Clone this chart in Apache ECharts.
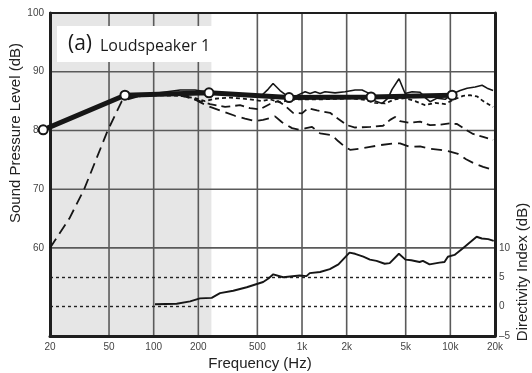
<!DOCTYPE html>
<html><head><meta charset="utf-8">
<script src="https://cdn.jsdelivr.net/npm/echarts@6/dist/echarts.min.js"></script>
<style>html,body{margin:0;padding:0;background:#fff}#c{width:532px;height:373px}</style>
</head><body><div id="c"></div>
<script>
// ---- data ----
const freqTicks = [20, 50, 100, 200, 500, 1000, 2000, 5000, 10000, 20000];
const vGridFreqs = [50, 100, 200, 500, 1000, 2000, 5000, 10000];
const splGridLevels = [60, 70, 80, 90];
const diDottedLevels = [0, 5];
const shadedBand = [20, 245];
const splTickLabels = [60, 70, 80, 90, 100];
const diTickLabels = [-5, 0, 5, 10];
const splRange = [45, 100];
const diRange = [-5, 50];
const freqRange = [20, 20000];

// thick estimated in-room curve with markers
const fitFreq = [18, 64, 236, 818, 2920, 10280];
const fitSpl  = [80.1, 86.0, 86.4, 85.6, 85.7, 86.0];

// thin solid curve
const solidFreq = [64, 100, 151, 190, 247, 327, 521, 590, 638, 711, 793, 898, 1050, 1133, 1225, 1324, 1430, 1670, 1950, 2280, 2540, 2787, 3110, 3466, 3802, 4046, 4508, 4954, 5524, 6252, 6760, 7296, 8148, 9226, 10280, 11642, 12972, 14690, 16370, 17702, 19410];
const solidSpl  = [86.0, 86.3, 86.9, 86.9, 86.4, 86.2, 85.7, 87.0, 88.0, 86.8, 85.9, 85.8, 86.6, 86.3, 86.6, 86.3, 86.6, 86.4, 86.6, 86.9, 86.9, 86.4, 85.0, 84.6, 85.5, 87.0, 88.8, 86.3, 86.6, 86.5, 85.6, 84.9, 85.5, 85.3, 86.2, 86.8, 87.2, 87.4, 87.7, 87.2, 86.8];

// short-dash curve
const shortFreq = [64, 100, 151, 190, 222, 259, 327, 446, 538, 608, 711, 830, 971, 1324, 1804, 2108, 2660, 3110, 3630, 4238, 4954, 5784, 6760, 7890, 9226, 10424, 12190, 13584, 15136, 16636, 19410];
const shortSpl  = [85.8, 86.0, 85.9, 85.5, 85.0, 85.4, 85.6, 85.3, 85.0, 85.3, 84.8, 85.2, 85.3, 85.3, 85.4, 85.5, 85.2, 84.7, 84.6, 85.3, 85.5, 85.0, 84.3, 84.7, 84.5, 85.2, 85.9, 86.0, 85.8, 85.0, 84.0];

// medium-dash curve
const medFreq = [64, 100, 150, 176, 205, 240, 303, 382, 446, 521, 608, 689, 769, 870, 1000, 1099, 1263, 1546, 1750, 2014, 2280, 2876, 3518, 3926, 4238, 4581, 5352, 6252, 7296, 8532, 9954, 11092, 12562, 14224, 16636, 19410];
const medSpl  = [85.6, 86.0, 86.0, 85.5, 85.0, 84.5, 84.0, 84.3, 83.8, 83.6, 84.5, 85.0, 84.2, 83.0, 82.9, 83.8, 83.4, 83.0, 82.0, 80.9, 80.5, 80.6, 80.8, 81.8, 82.3, 81.6, 81.3, 81.5, 80.9, 81.0, 81.2, 81.1, 80.2, 79.4, 78.9, 78.4];

// long-dash curve
const longFreq = [20, 27, 34, 49, 61, 81, 129, 176, 205, 240, 289, 353, 413, 482, 546, 608, 658, 733, 857, 971, 1065, 1169, 1324, 1594, 1750, 1950, 2108, 2462, 2876, 3360, 4238, 4581, 5352, 6252, 7296, 8532, 9954, 11272, 12766, 14690, 16636, 19410];
const longSpl  = [60, 65, 70, 80, 85, 85.9, 86.2, 85.8, 84.8, 84.0, 83.3, 82.5, 82.0, 81.6, 81.8, 82.1, 82.4, 81.4, 80.4, 80.1, 80.4, 80.6, 79.5, 79.2, 78.2, 77.2, 76.7, 76.9, 77.2, 77.5, 77.8, 77.8, 77.2, 77.3, 76.9, 76.7, 76.4, 76.0, 75.1, 74.3, 73.8, 73.3];

// directivity index (right axis)
const diFreq = [102, 143, 176, 205, 246, 280, 344, 424, 547, 594, 640, 746, 964, 1072, 1127, 1324, 1540, 1760, 2090, 2280, 2590, 2870, 3180, 3610, 3900, 4500, 4980, 5450, 6200, 6530, 7240, 8450, 9130, 9620, 10670, 12100, 15040, 16300, 18000, 19600];
const diVal  = [0.4, 0.5, 0.9, 1.4, 1.5, 2.3, 2.7, 3.3, 4.2, 4.8, 5.5, 5.0, 5.3, 5.2, 5.7, 5.9, 6.4, 7.2, 9.2, 9.0, 8.5, 8.0, 7.8, 7.3, 7.4, 9.0, 8.0, 7.9, 7.6, 7.8, 7.2, 7.5, 7.6, 8.5, 8.8, 9.9, 11.9, 11.6, 11.5, 11.2];

// ---- chart ----
const zip = (a, b) => a.map((v, i) => [v, b[i]]);
const INK = '#161616';
const RULE = '#5a5a5a';
const FRAME = '#1e1e1e';
const chart = echarts.init(document.getElementById('c'), null, {renderer: 'canvas'});

const lineSeries = (data, type, width, z) => ({
  type: 'line', data, xAxisIndex: 0, yAxisIndex: 0, showSymbol: false, symbol: 'none',
  silent: true, animation: false, z,
  lineStyle: {color: INK, width, type}
});
// grid rules drawn from the tick arrays through the chart's own axes
const ruleSeries = data => ({
  type: 'line', data, xAxisIndex: 0, yAxisIndex: 0, showSymbol: false, symbol: 'none',
  silent: true, animation: false, z: 2,
  lineStyle: {color: RULE, width: 1.6, type: 'solid'}
});
const vRules = vGridFreqs.map(f => ruleSeries([[f, splRange[0]], [f, splRange[1]]]));
const hRules = splGridLevels.map(v => ruleSeries([[freqRange[0], v], [freqRange[1], v]]));

chart.setOption({
  animation: false,
  grid: {left: 50, right: 37, top: 13, bottom: 37, show: false},
  xAxis: [{
    type: 'log', logBase: 10, min: freqRange[0], max: freqRange[1], position: 'bottom', z: 6,
    axisLine: {show: true, onZero: false, lineStyle: {color: FRAME, width: 3}},
    axisTick: {show: false},
    splitLine: {show: false},
    axisLabel: {
      customValues: freqTicks, margin: 6, color: '#444', fontSize: 10,
      fontFamily: 'Liberation Sans',
      formatter: v => v >= 1000 ? (v / 1000) + 'k' : String(v)
    }
  }, {
    type: 'log', logBase: 10, min: freqRange[0], max: freqRange[1], position: 'top', z: 6,
    axisLine: {show: true, onZero: false, lineStyle: {color: FRAME, width: 2}},
    axisTick: {show: false}, axisLabel: {show: false}, splitLine: {show: false}
  }],
  yAxis: [{
    type: 'value', min: splRange[0], max: splRange[1], position: 'left', z: 6,
    axisLine: {show: true, onZero: false, lineStyle: {color: FRAME, width: 3}},
    axisTick: {show: false},
    splitLine: {show: false},
    axisLabel: {
      customValues: splTickLabels, margin: 6, color: '#444', fontSize: 10,
      fontFamily: 'Liberation Sans'
    }
  }, {
    type: 'value', min: diRange[0], max: diRange[1], position: 'right', z: 6,
    axisLine: {show: true, onZero: false, lineStyle: {color: FRAME, width: 3}},
    axisTick: {show: false}, splitLine: {show: false},
    axisLabel: {
      customValues: diTickLabels, margin: 4, color: '#444', fontSize: 10, fontFamily: 'Liberation Sans',
      formatter: v => v < 0 ? '\u2013' + Math.abs(v) : String(v)
    }
  }],
  series: [
    { // dotted DI reference lines + shaded band
      type: 'line', data: [], yAxisIndex: 1,
      markLine: {symbol: 'none', label: {show: false},
        lineStyle: {color: '#222', width: 1.4, type: [3, 3]},
        data: diDottedLevels.map(v => ({yAxis: v}))},
      markArea: {silent: true, itemStyle: {color: '#e6e6e6'},
        data: [[{xAxis: shadedBand[0]}, {xAxis: shadedBand[1]}]]}
    },
    ...vRules,
    ...hRules,
    lineSeries(zip(longFreq, longSpl), [11, 6], 1.8, 7),
    lineSeries(zip(medFreq, medSpl), [9, 5], 1.8, 7),
    lineSeries(zip(shortFreq, shortSpl), [4, 3], 1.8, 7),
    lineSeries(zip(solidFreq, solidSpl), 'solid', 1.6, 7),
    Object.assign(lineSeries(zip(diFreq, diVal), 'solid', 1.9, 7), {yAxisIndex: 1}),
    {
      type: 'line', data: zip(fitFreq, fitSpl), xAxisIndex: 0, yAxisIndex: 0,
      clip: false, silent: true, z: 12,
      symbol: 'circle', symbolSize: 9, showSymbol: true,
      itemStyle: {color: '#fff', borderColor: INK, borderWidth: 2},
      lineStyle: {color: INK, width: 5}
    }
  ],
  graphic: [
    {type: 'rect', z: 20, shape: {x: 57, y: 26, width: 155, height: 36}, style: {fill: '#fff'}},
    {type: 'text', z: 21, x: 68, y: 44, style: {text: '(a)', font: '21px "Open Sans"', fill: '#1a1a1a', verticalAlign: 'middle'}},
    {type: 'text', z: 21, x: 100, y: 46, style: {text: 'Loudspeaker 1', font: '16px "Open Sans"', fill: '#1a1a1a', verticalAlign: 'middle'}},
    {type: 'text', z: 21, x: 16, y: 133, rotation: Math.PI / 2, style: {text: 'Sound Pressure Level (dB)', font: '15px "Liberation Sans"', fill: '#222', align: 'center', verticalAlign: 'middle'}},
    {type: 'text', z: 21, x: 523, y: 272, rotation: Math.PI / 2, style: {text: 'Directivity Index (dB)', font: '15px "Liberation Sans"', fill: '#222', align: 'center', verticalAlign: 'middle'}},
    {type: 'text', z: 21, x: 260, y: 364, style: {text: 'Frequency (Hz)', font: '15px "Liberation Sans"', fill: '#222', align: 'center', verticalAlign: 'middle'}}
  ]
});
</script>
</body></html>
